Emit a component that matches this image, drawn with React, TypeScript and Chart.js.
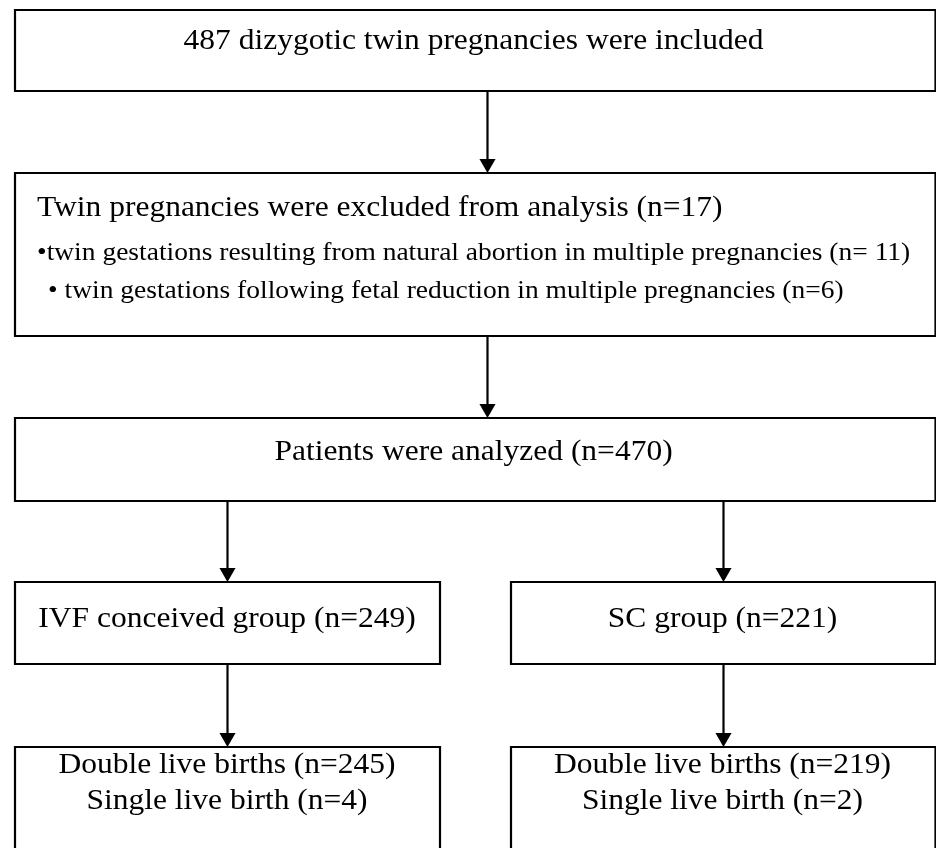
import React, { useEffect, useRef } from "react";
import { Chart, registerables } from "chart.js";

Chart.register(...registerables);

// ---- content (text of each flowchart box) ----
const box1Lines = ["487 dizygotic twin pregnancies were included"];
const box2Lines = [
  "Twin pregnancies were excluded from analysis (n=17)",
  "•twin gestations resulting from natural abortion in multiple pregnancies (n= 11)",
  "• twin gestations following fetal reduction in multiple pregnancies (n=6)",
];
const box3Lines = ["Patients were analyzed (n=470)"];
const box4Lines = ["IVF conceived group (n=249)"];
const box5Lines = ["SC group (n=221)"];
const box6Lines = ["Double live births (n=245)", "Single live birth (n=4)"];
const box7Lines = ["Double live births (n=219)", "Single live birth (n=2)"];
const boxTexts = [box1Lines, box2Lines, box3Lines, box4Lines, box5Lines, box6Lines, box7Lines];

// ---- layout (value space of the chart's x/y scales: 0..936, 0..848) ----
const boxLeft = [15, 15, 15, 15, 511, 15, 511];
const boxRight = [935.5, 935.5, 935.5, 440, 935.5, 440, 935.5];
const boxTop = [10, 173, 418, 582, 582, 747, 747];
const boxBottom = [91, 336, 501, 664, 664, 860, 860];

// per-line text layout for each box: [x, baselineY, align, fontSize]
type LineLayout = [number, number, "left" | "center", number];
const textLayout: LineLayout[][] = [
  [[473.5, 49, "center", 30]],
  [
    [37, 216, "left", 30],
    [37, 260, "left", 26.2],
    [48, 298, "left", 26.2],
  ],
  [[473.5, 460, "center", 30]],
  [[227, 627, "center", 30]],
  [[722.5, 627, "center", 30]],
  [
    [227, 773, "center", 30],
    [227, 809, "center", 30],
  ],
  [
    [722.5, 773, "center", 30],
    [722.5, 809, "center", 30],
  ],
];

// arrows: x, start y, end (tip) y
const arrowX = [487.5, 487.5, 227.5, 723.5, 227.5, 723.5];
const arrowFrom = [91, 336, 501, 501, 664, 664];
const arrowTo = [173, 418, 582, 582, 747, 747];

const HEAD_R = 9.3;
const STRETCH = 1.05;
const FONT = '"Liberation Serif", "Times New Roman", Times, serif';

const textPlugin = {
  id: "flowText",
  afterDatasetsDraw(chart: any) {
    const { ctx, scales } = chart;
    const xs = scales.x;
    const ys = scales.y;
    ctx.save();
    ctx.fillStyle = "#000";
    ctx.textBaseline = "alphabetic";
    boxTexts.forEach((lines, bi) => {
      lines.forEach((txt, li) => {
        const [x, y, align, size] = textLayout[bi][li];
        ctx.save();
        ctx.translate(xs.getPixelForValue(x), ys.getPixelForValue(y));
        ctx.scale(STRETCH, 1);
        ctx.font = `${size}px ${FONT}`;
        ctx.textAlign = align;
        ctx.fillText(txt, 0, 0);
        ctx.restore();
      });
    });
    ctx.restore();
  },
};

export default function App() {
  const ref = useRef<HTMLCanvasElement | null>(null);

  useEffect(() => {
    document.body.style.margin = "0";
    const canvas = ref.current;
    if (!canvas) return;

    const boxDatasets = boxLeft.map((l, i) => ({
      type: "scatter" as const,
      data: [
        { x: l, y: boxTop[i] },
        { x: boxRight[i], y: boxTop[i] },
        { x: boxRight[i], y: boxBottom[i] },
        { x: l, y: boxBottom[i] },
        { x: l, y: boxTop[i] },
      ],
      showLine: true,
      borderColor: "#000",
      borderWidth: 2.2,
      pointRadius: 0,
      fill: false,
      tension: 0,
      borderJoinStyle: "miter" as const,
      borderCapStyle: "square" as const,
    }));

    const shaftDatasets = arrowX.map((x, i) => ({
      type: "scatter" as const,
      data: [
        { x, y: arrowFrom[i] },
        { x, y: arrowTo[i] - HEAD_R },
      ],
      showLine: true,
      borderColor: "#000",
      borderWidth: 2.2,
      pointRadius: 0,
      fill: false,
    }));

    const headDataset = {
      type: "scatter" as const,
      data: arrowX.map((x, i) => ({ x, y: arrowTo[i] - HEAD_R })),
      pointStyle: "triangle" as const,
      rotation: 180,
      pointRadius: HEAD_R,
      backgroundColor: "#000",
      borderColor: "#000",
      borderWidth: 0,
      showLine: false,
    };

    const chart = new Chart(canvas, {
      type: "scatter",
      data: { datasets: [...boxDatasets, ...shaftDatasets, headDataset] as any },
      options: {
        responsive: false,
        animation: false,
        events: [],
        layout: { padding: 0, autoPadding: false },
        plugins: { legend: { display: false }, title: { display: false }, tooltip: { enabled: false } },
        scales: {
          x: { type: "linear", min: 0, max: 936, display: false },
          y: { type: "linear", min: 0, max: 848, reverse: true, display: false },
        },
      },
      plugins: [textPlugin],
    });

    let alive = true;
    if ((document as any).fonts && (document as any).fonts.load) {
      Promise.all([
        (document as any).fonts.load('30px "Liberation Serif"'),
        (document as any).fonts.load('26.2px "Liberation Serif"'),
      ])
        .catch(() => null)
        .then(() => {
          if (alive) chart.update("none");
        });
    }
    return () => {
      alive = false;
      chart.destroy();
    };
  }, []);

  return (
    <div style={{ width: 936, height: 848, background: "#fff", fontFamily: FONT }}>
      <canvas ref={ref} width={936} height={848} style={{ display: "block" }} />
    </div>
  );
}
